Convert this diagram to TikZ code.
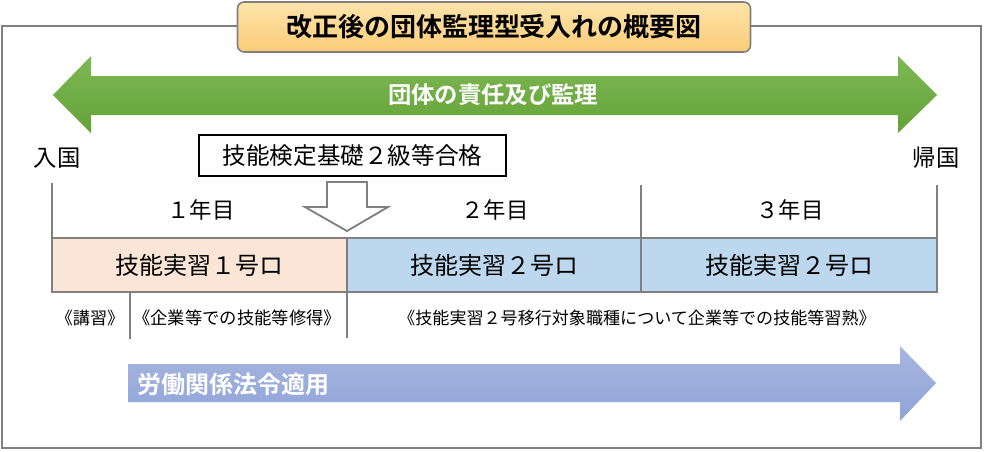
\documentclass[tikz,border=0pt]{standalone}
\usepackage{fontspec}
\setmainfont{Noto Sans CJK JP}[BoldFont={Noto Sans CJK JP Bold}]
\usepackage{tikz}
\usetikzlibrary{positioning,calc}
\usepackage{xcolor}
\definecolor{framegray}{RGB}{128,128,128}
\definecolor{peach}{RGB}{251,229,214}
\definecolor{paleblue}{RGB}{189,215,238}

\begin{document}
\begin{tikzpicture}[x=0.75pt, y=-0.75pt]
    \useasboundingbox (0,0) rectangle (990,451);

    % Outer frame
    \draw[framegray, line width=1.5pt] (2,26) rectangle (981,448);

    % Title box
    \node[draw=framegray, line width=1.2pt, rounded corners=5pt,
          top color={rgb,255:red,253;green,228;blue,170}, bottom color={rgb,255:red,250;green,204;blue,120},
          minimum width=513*0.75pt, minimum height=50*0.75pt, inner sep=0pt,
          font=\fontsize{19.5pt}{23pt}\selectfont\bfseries] (title_box) at (494,27) {改正後の団体監理型受入れの概要図};

    % Green double arrow (responsibility)
    \shade[top color={rgb,255:red,126;green,183;blue,84}, bottom color={rgb,255:red,100;green,163;blue,56}]
        (53,95) -- (91,56) -- (91,76) -- (898,76) -- (898,56) -- (937,95)
        -- (898,133) -- (898,115) -- (91,115) -- (91,133) -- cycle;
    \node[white, font=\fontsize{17.5pt}{20pt}\selectfont\bfseries] (duty_label) at (493,95) {団体の責任及び監理};

    % Entry / return
    \node[font=\fontsize{17.5pt}{20pt}\selectfont] (entry_label) at (57,158) {入国};
    \node[font=\fontsize{17.5pt}{20pt}\selectfont] (return_label) at (936,158) {帰国};

    % Exam box
    \node[draw=black, line width=0.9pt, minimum width=307*0.75pt, minimum height=41*0.75pt, inner sep=0pt,
          font=\fontsize{17.7pt}{20pt}\selectfont] (exam_box) at (352.5,155.5) {技能検定基礎２級等合格};

    % Hollow down arrow
    \filldraw[fill=white, draw=framegray, line width=1.4pt, line join=miter]
        (327,182) -- (367,182) -- (367,207) -- (388,207) -- (347,231) -- (305,207) -- (327,207) -- cycle;

    % Year dividers
    \coordinate (year_a_top) at (52,183);
    \coordinate (year_b_top) at (641,185);
    \coordinate (year_c_top) at (937,185);
    \draw[framegray, line width=1.4pt] (year_a_top) -- (52,238);
    \draw[framegray, line width=1.4pt] (year_b_top) -- (641,238);
    \draw[framegray, line width=1.4pt] (year_c_top) -- (937,238);

    \node[font=\fontsize{16.8pt}{19pt}\selectfont] (year_one) at (201,210) {１年目};
    \node[font=\fontsize{16.8pt}{19pt}\selectfont] (year_two) at (495,210) {２年目};
    \node[font=\fontsize{16.8pt}{19pt}\selectfont] (year_three) at (790,210) {３年目};

    % Training stages
    \filldraw[fill=peach, draw=framegray, line width=1.4pt] (52,238) rectangle (347,292);
    \filldraw[fill=paleblue, draw=framegray, line width=1.4pt] (347,238) rectangle (641,292);
    \filldraw[fill=paleblue, draw=framegray, line width=1.4pt] (641,238) rectangle (937,292);
    \node[font=\fontsize{18pt}{20pt}\selectfont] (stage_one) at (199.5,265) {技能実習１号ロ};
    \node[font=\fontsize{18pt}{20pt}\selectfont] (stage_two_a) at (494,265) {技能実習２号ロ};
    \node[font=\fontsize{18pt}{20pt}\selectfont] (stage_two_b) at (789,265) {技能実習２号ロ};

    % Contents below
    \draw[framegray, line width=1.4pt] (130,292) -- (130,339);
    \draw[framegray, line width=1.4pt] (347,292) -- (347,338);
    \node[font=\fontsize{12.8pt}{15pt}\selectfont] (lecture_label) at (90,318) {《講習》};
    \node[font=\fontsize{13pt}{15pt}\selectfont] (acquire_label) at (237,318) {《企業等での技能等修得》};
    \node[font=\fontsize{12.8pt}{15pt}\selectfont] (master_label) at (637,318) {《技能実習２号移行対象職種について企業等での技能等習熟》};

    % Labour law arrow
    \shade[top color={rgb,255:red,168;green,182;blue,224}, bottom color={rgb,255:red,142;green,164;blue,216}]
        (128,364) -- (900,364) -- (900,346) -- (936,383) -- (900,421) -- (900,402) -- (128,402) -- cycle;
    \node[white, anchor=west, inner sep=0pt, font=\fontsize{18pt}{20pt}\selectfont\bfseries] (law_label) at (137,384) {労働関係法令適用};
\end{tikzpicture}
\end{document}
